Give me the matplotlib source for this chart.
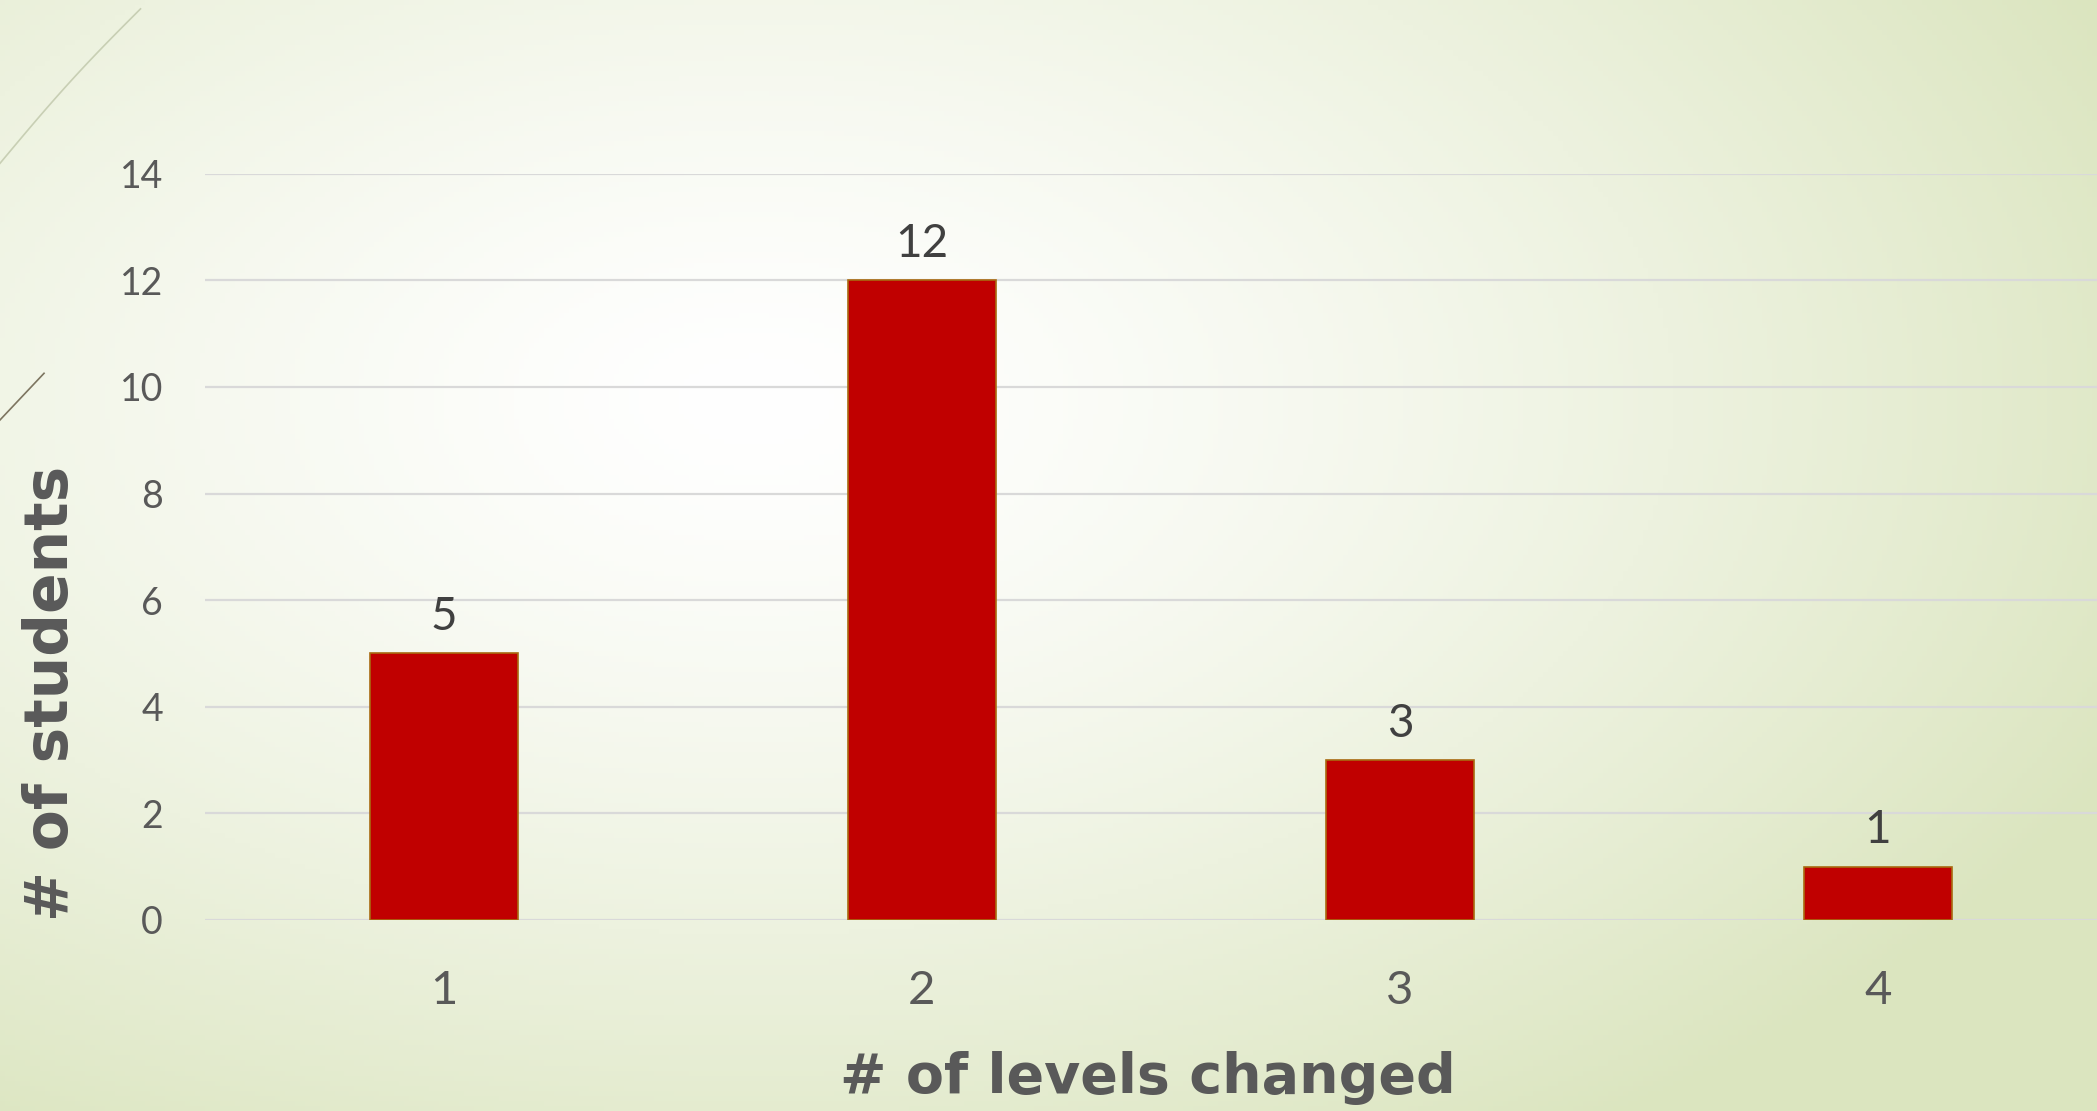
import numpy as np
import matplotlib
matplotlib.use("Agg")
import matplotlib.pyplot as plt
from matplotlib.lines import Line2D

levels = ["1", "2", "3", "4"]
students = [5, 12, 3, 1]
y_ticks = [0, 2, 4, 6, 8, 10, 12, 14]

fig = plt.figure(figsize=(20.97, 11.11), dpi=100)

# radial background, white near the middle, pale green towards the edges
bg = fig.add_axes([0, 0, 1, 1], zorder=-10)
gx, gy = np.meshgrid(np.linspace(0, 1, 420), np.linspace(0, 1, 220))
d = np.sqrt(((gx - 0.36) / 1.0) ** 2 + ((gy - 0.36) / 1.1) ** 2)
d = np.clip(d / 0.72, 0, 1) ** 1.4
c0 = np.array([1.0, 1.0, 1.0])
c1 = np.array([0xdb, 0xe5, 0xbf]) / 255
img = c0 + (c1 - c0) * d[..., None]
bg.imshow(img, extent=[0, 1, 0, 1], aspect="auto", origin="upper")
bg.set_xlim(0, 1)
bg.set_ylim(0, 1)
bg.axis("off")

# decorative strokes in the top-left corner
t = np.linspace(0, 1, 50)
bg.plot(0.067 * (1 - t), 0.992 - 0.139 * t + 0.004 * np.sin(np.pi * t),
        color="#c8cfb4", lw=1.2)
bg.add_line(Line2D([0.021, 0.0], [0.664, 0.622], color="#7d7560", lw=1.2))

ax = fig.add_axes([0.0976, 0.172, 0.9024, 0.6716])
ax.patch.set_alpha(0)
x = np.arange(1, len(levels) + 1)
bars = ax.bar(x, students, width=0.31, color="#c00000",
              edgecolor="#a86a10", linewidth=1.2, zorder=3)

for xi, v in zip(x, students):
    ax.annotate(str(v), (xi, v), xytext=(0, 11), textcoords="offset points",
                ha="center", va="bottom", fontsize=33, color="#404040",
                family="Lato")

ax.set_ylim(0, 14)
ax.set_xlim(0.5, 4.458)
ax.set_yticks(y_ticks)
ax.set_xticks(x)
ax.set_xticklabels(levels)
ax.yaxis.grid(True, color="#d9d9d9", lw=1.6, zorder=0)
ax.set_axisbelow(True)
for s in ax.spines.values():
    s.set_visible(False)
ax.tick_params(axis="both", length=0)
ax.tick_params(axis="y", pad=30, labelsize=27, labelcolor="#595959")
ax.tick_params(axis="x", pad=36, labelsize=34, labelcolor="#595959")
for lab in ax.get_xticklabels() + ax.get_yticklabels():
    lab.set_family("Lato")

fig.text(0.5476, 0.03, "# of levels changed", ha="center", va="center",
         fontsize=40, fontweight="bold", color="#595959", family="DejaVu Sans")
fig.text(0.0245, 0.376, "# of students", ha="center", va="center", rotation=90,
         fontsize=43, fontweight="bold", color="#595959", family="DejaVu Sans")

fig.savefig("out.png", dpi=100)
